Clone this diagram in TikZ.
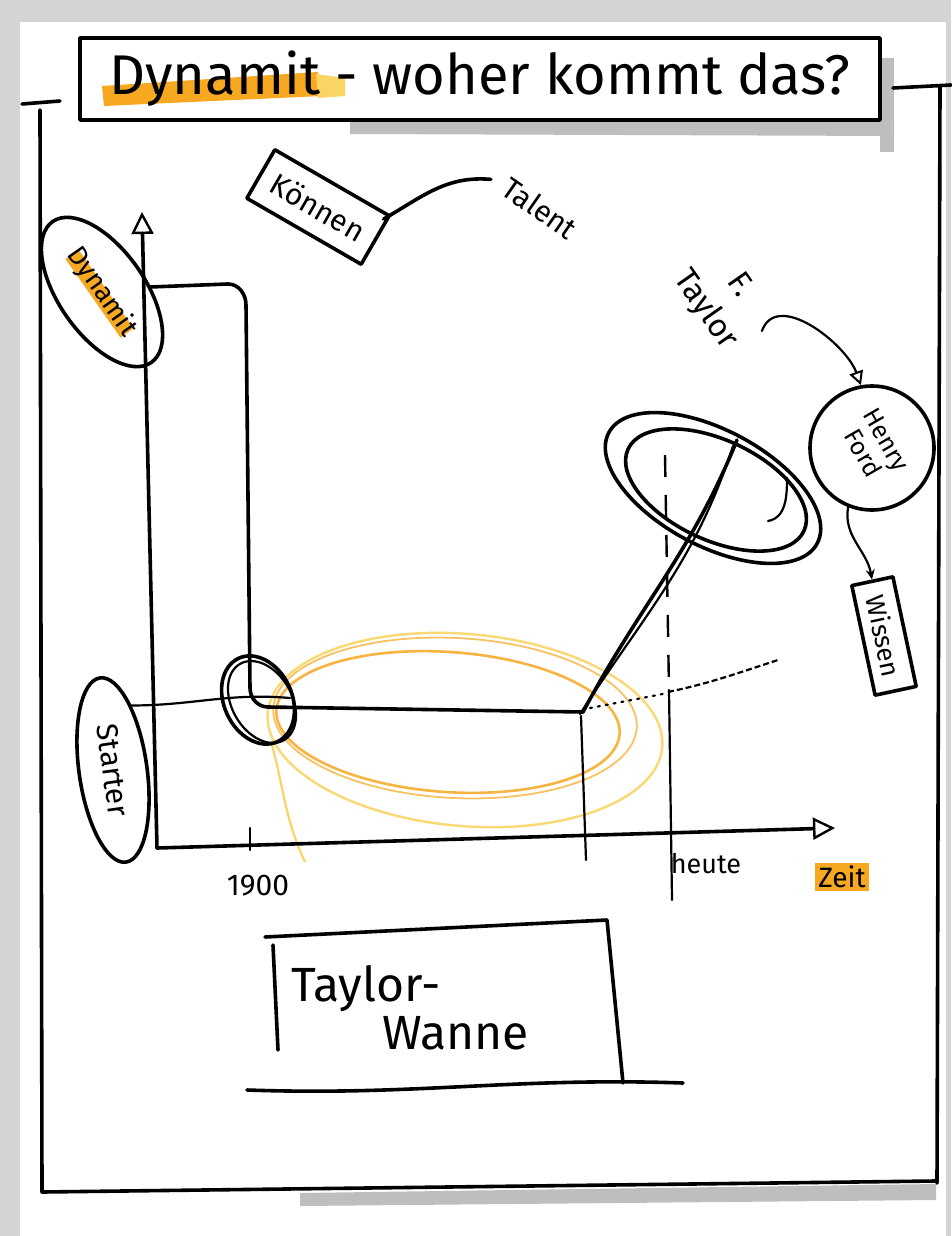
\documentclass[tikz,border=0pt]{standalone}
\usepackage{fontspec}
\setmainfont{Fira Sans}
\usetikzlibrary{arrows.meta,shapes.geometric,calc}
\definecolor{hl}{RGB}{246,168,32}
\definecolor{hlight}{RGB}{250,212,100}
\definecolor{paperedge}{RGB}{212,212,212}
\definecolor{shadowgray}{RGB}{190,190,190}
\begin{document}
\begin{tikzpicture}[x=1pt,y=-1pt,
  ink/.style={line width=3.6pt, line cap=round, line join=round, black},
  thinink/.style={line width=2.2pt, line cap=round, line join=round, black},
  openarrow/.style={-{Triangle[open,length=22pt,width=22pt,line width=2.4pt]}},
  smallopen/.style={-{Triangle[open,length=14pt,width=14pt,line width=2pt]}},
  lbl/.style={font=\fontsize{#1}{#1}\selectfont, inner sep=1pt},
  lbl/.default=30]
% background and paper
\fill[paperedge] (0,0) rectangle (951,1236);
\fill[white] (20,22) rectangle (946,1236);
\useasboundingbox (0,0) rectangle (951,1236);
% shadows
\fill[shadowgray] (880,58) rectangle (894,152);
\fill[shadowgray] (350,120) -- (894,120) -- (894,136) -- (350,134) -- cycle;
\fill[shadowgray] (300,1193) -- (936,1184) -- (936,1200) -- (300,1206) -- cycle;
% outer frame
\draw[ink] (22,104) -- (60,101);
\draw[ink] (40,110) -- (42,1192) -- (935,1181);
\draw[ink] (893,88) -- (951,85);
\draw[ink] (940,86) -- (937,1183);
% title
\fill[hl] (102,86) -- (318,72) -- (322,96) -- (104,106) -- cycle;
\fill[hlight] (316,74) -- (345,78) -- (345,96) -- (318,98) -- cycle;
\node[draw, ink, minimum width=800pt, minimum height=82pt, lbl=56, text=black] (title) at (480,79) {Dynamit - woher kommt das?};
% Koennen / Talent
\node[draw, ink, rotate=-30, minimum width=132pt, minimum height=56pt, lbl=30] (koennen) at (318,207) {Können};
\node[lbl=30, rotate=-35] (talent) at (540,208) {Talent};
\draw[ink] ([xshift=-8pt,yshift=-4pt]koennen.north east) to[out=30,in=175] ([xshift=-14pt,yshift=4pt]talent.west);
% Dynamit oval on y axis
\fill[hl, rotate around={-55:(102,292)}] (54,287) rectangle (150,303);
\node[draw, ink, ellipse, rotate=-55, minimum width=172pt, minimum height=86pt, inner sep=0pt, lbl=27] (dyn) at (102,292) {Dynamit};
% orange ellipses
\draw[hlight, line width=2.4pt, opacity=0.9, rotate around={-5:(465,730)}] (465,730) ellipse (198 and 96);
\draw[hl, line width=2.6pt, opacity=0.85, rotate around={-4:(448,722)}] (448,722) ellipse (172 and 70);
\draw[hl, line width=1.8pt, opacity=0.7, rotate around={-3:(455,718)}] (455,718) ellipse (182 and 80);
\draw[hlight, line width=2.2pt] (272,745) to[out=-75,in=115] (305,862);
% axes
\coordinate (origin) at (157,848);
\coordinate (xend) at (835,828);
\coordinate (yend) at (142,212);
\draw[ink, openarrow] (origin) -- (xend);
\draw[ink, openarrow] (origin) -- (yend);
\draw[thinink] (250,828) -- (250,850);
% main curve
\draw[ink] (150,287) -- (228,284) to[out=0,in=90] (246,305) -- (250,688) to[out=-90,in=180] (268,707) -- (583,712) to[out=62,in=-112] (737,440);
\draw[thinink] (580,714) to[out=57,in=-108] (733,446);
% small black circle
\draw[ink, rotate around={25:(258,700)}] (258,700) ellipse (34 and 46);
\draw[thinink, rotate around={30:(262,702)}] (262,702) ellipse (30 and 44);
% dotted / dashed continuation
\draw[line width=2.2pt, dash pattern=on 2pt off 6pt, line cap=round] (590,708) -- (668,693);
\draw[line width=2.2pt, dash pattern=on 6pt off 3pt] (668,692) to[out=12,in=198] (778,660);
% verticals
\draw[thinink] (581,716) -- (586,860);
\draw[line width=2.4pt, dash pattern=on 22pt off 18pt] (665,455) -- (669,690);
\draw[thinink] (669,690) -- (672,900);
% top-right ellipses
\draw[ink, rotate around={-28:(713,488)}] (713,488) ellipse (118 and 58);
\draw[ink, rotate around={-25:(716,490)}] (716,490) ellipse (97 and 50);
\draw[thinink] (787,478) to[out=-90,in=10] (768,521);
% Taylor / Ford / Wissen
\node[lbl=32, rotate=-55, align=center] (taylor) at (722,298) {F.\\[10pt]Taylor};
\node[draw, ink, circle, minimum size=124pt, inner sep=0pt] (ford) at (872,448) {\rotatebox{-60}{\fontsize{25}{27}\selectfont\begin{tabular}{@{}c@{}}Henry\\Ford\end{tabular}}};
\node[draw, ink, rotate=-78, minimum width=112pt, minimum height=42pt, lbl=26] (wissen) at (884,636) {Wissen};
\draw[thinink, smallopen] ([xshift=14pt,yshift=4pt]taylor.east) to[out=70,in=110] (ford.100);
\draw[thinink, -{Stealth[length=10pt,width=9pt]}] (ford.-112) to[out=-100,in=100] (wissen.west);
% Starter oval
\node[draw, ink, ellipse, rotate=-82, minimum width=186pt, minimum height=68pt, inner sep=0pt, lbl=30] (starter) at (113,770) {Starter};
\draw[thinink] (starter.156) to[out=0,in=175] (290,698);
% axis labels
\node[lbl=30] (n1900) at (258,886) {1900};
\node[lbl=27] (heute) at (706,864) {heute};
\node[lbl=28, fill=hl, inner sep=3pt] (zeit) at (842,877) {Zeit};
% Taylor-Wanne
\draw[ink] (265,937) -- (607,920) -- (623,1083);
\draw[ink] (273,945) -- (278,1050);
\draw[ink] (247,1090) to[out=-2,in=178] (683,1083);
\node[lbl=48, align=left] (wanne) at (410,1008) {Taylor-\\\hspace*{1.9em}Wanne};
\end{tikzpicture}
\end{document}
